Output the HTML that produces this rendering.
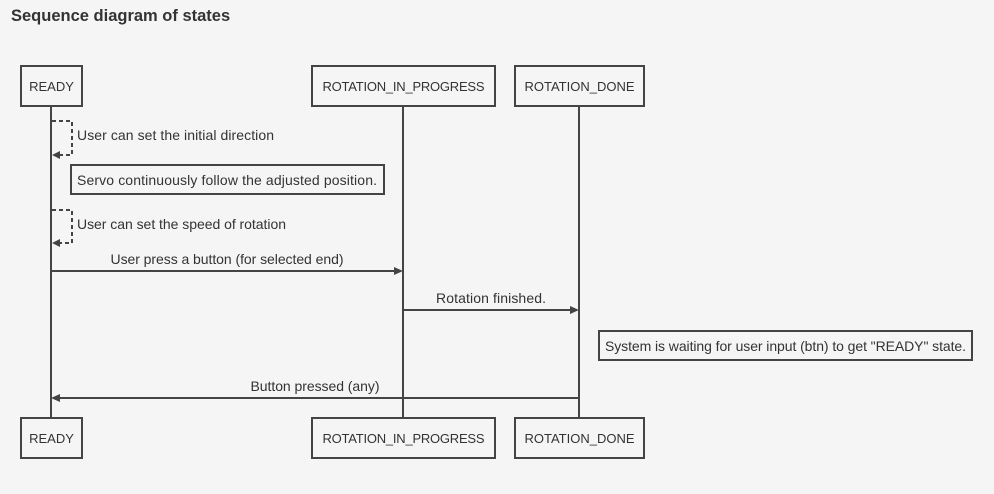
<!DOCTYPE html>
<html><head><style>
html,body{margin:0;padding:0;background:#f5f5f5;}
svg{display:block;font-family:"Liberation Sans",sans-serif;}
</style></head><body>
<svg width="994" height="494" viewBox="0 0 994 494">
<rect width="994" height="494" fill="#f5f5f5"/>
<text x="11" y="21" font-size="16.5" font-weight="bold" fill="#333">Sequence diagram of states</text>
<g stroke="#444" stroke-width="2" fill="none">
<line x1="51" y1="106" x2="51" y2="418"/>
<line x1="403" y1="106" x2="403" y2="418"/>
<line x1="579" y1="106" x2="579" y2="418"/>
<rect x="21" y="66" width="61" height="40" fill="#f5f5f5"/>
<rect x="312" y="66" width="183" height="40" fill="#f5f5f5"/>
<rect x="515" y="66" width="129" height="40" fill="#f5f5f5"/>
<rect x="21" y="418" width="61" height="40" fill="#f5f5f5"/>
<rect x="312" y="418" width="183" height="40" fill="#f5f5f5"/>
<rect x="515" y="418" width="129" height="40" fill="#f5f5f5"/>
<rect x="71" y="165" width="313" height="29" fill="#f5f5f5"/>
<rect x="599" y="331" width="373" height="29" fill="#f5f5f5"/>
<path d="M52 121 H72 V155 H58" stroke-dasharray="4,3"/>
<path d="M52 210 H72 V243 H58" stroke-dasharray="4,3"/>
<line x1="52" y1="271" x2="396" y2="271"/>
<line x1="404" y1="310" x2="572" y2="310"/>
<line x1="578" y1="398" x2="58" y2="398"/>
</g>
<g fill="#444">
<polygon points="52,155 60,151 60,159"/>
<polygon points="52,243 60,239 60,247"/>
<polygon points="403,271 394,267 394,275"/>
<polygon points="579,310 570,306 570,314"/>
<polygon points="51,398 60,394 60,402"/>
</g>
<g font-size="13" fill="#333">
<text x="51.5" y="91" text-anchor="middle">READY</text>
<text x="403.5" y="91" text-anchor="middle" textLength="162">ROTATION_IN_PROGRESS</text>
<text x="579.5" y="91" text-anchor="middle">ROTATION_DONE</text>
<text x="51.5" y="443" text-anchor="middle">READY</text>
<text x="403.5" y="443" text-anchor="middle" textLength="162">ROTATION_IN_PROGRESS</text>
<text x="579.5" y="443" text-anchor="middle">ROTATION_DONE</text>
</g>
<g font-size="14" fill="#333">
<text x="77" y="140" textLength="197">User can set the initial direction</text>
<text x="77" y="229" textLength="209">User can set the speed of rotation</text>
<text x="77" y="185" textLength="300">Servo continuously follow the adjusted position.</text>
<text x="605" y="351" textLength="361">System is waiting for user input (btn) to get "READY" state.</text>
<text x="227" y="264" text-anchor="middle" textLength="233">User press a button (for selected end)</text>
<text x="491" y="303" text-anchor="middle" textLength="110">Rotation finished.</text>
<text x="315" y="391" text-anchor="middle" textLength="129">Button pressed (any)</text>
</g>
</svg>
</body></html>
